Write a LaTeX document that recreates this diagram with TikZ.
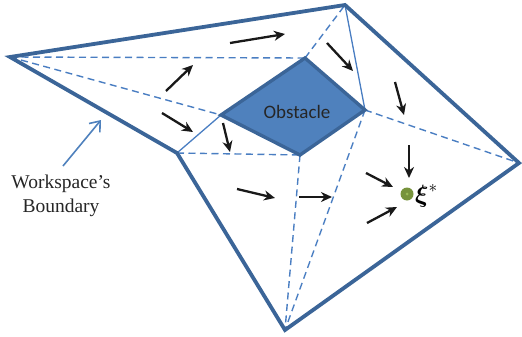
\documentclass[tikz,border=0pt]{standalone}
\usepackage{amsmath,amssymb}
\usepackage{fontspec}
\setmainfont{Liberation Serif}
\newfontfamily\calfont{Carlito}
\usetikzlibrary{arrows.meta}
\definecolor{wall}{HTML}{3B6598}
\definecolor{obst}{HTML}{4F81BD}
\definecolor{cell}{HTML}{4A7EC2}
\definecolor{goal}{HTML}{77933C}
\definecolor{goallight}{HTML}{9BBB59}
\tikzset{
  boundary/.style={draw=wall, line width=3.8pt, line join=miter},
  obstacle/.style={fill=obst, draw=wall, line width=3.4pt, line join=miter},
  cutdash/.style={draw=cell, line width=1.4pt, dash pattern=on 7pt off 4.5pt},
  cutsolid/.style={draw=cell, line width=1.3pt},
  flow/.style={draw=black!90, line width=2.3pt, -{Stealth[length=11pt,width=10pt,inset=3.5pt]}},
  pointer/.style={draw=obst, line width=1.6pt, -{Straight Barb[length=9pt,width=14pt]}},
}
\begin{document}
\begin{tikzpicture}[x=1pt,y=-1pt]
\useasboundingbox (0,0) rectangle (522,337);
% workspace corners
\coordinate (A) at (10,57);
\coordinate (B) at (345,5);
\coordinate (C) at (519,163);
\coordinate (D) at (285,330);
\coordinate (E) at (177,153);
% obstacle corners
\coordinate (OL) at (221,115);
\coordinate (OT) at (305,58);
\coordinate (OR) at (365,110);
\coordinate (OB) at (300,155);
% cell decomposition
\draw[cutdash] (A) -- (OT);
\draw[cutdash] (A) -- (OL);
\draw[cutdash] (OT) -- (B);
\draw[cutdash] (OR) -- (C);
\draw[cutdash] (E) -- (OB);
\draw[cutdash] (OB) -- (D);
\draw[cutdash] (OR) -- (D);
\draw[cutsolid] (B) -- (OR);
\draw[cutsolid] (E) -- (OL);
% boundary
\draw[boundary] (A) -- (B) -- (C) -- (D) -- (E) -- cycle;
% obstacle
\draw[obstacle] (OL) -- (OT) -- (OR) -- (OB) -- cycle;
\node[font=\calfont\fontsize{19}{22}\selectfont, text=black!85] (obsl) at (297,112) {Obstacle};
% flow arrows
\coordinate (f1a) at (230,43);  \coordinate (f1b) at (285,34);
\coordinate (f2a) at (166,91);  \coordinate (f2b) at (193,65);
\coordinate (f3a) at (162,113); \coordinate (f3b) at (193,132);
\coordinate (f4a) at (223,123); \coordinate (f4b) at (230,152);
\coordinate (f5a) at (327,43);  \coordinate (f5b) at (353,71);
\coordinate (f6a) at (395,82);  \coordinate (f6b) at (404,115);
\coordinate (f7a) at (409,145); \coordinate (f7b) at (409,178);
\coordinate (f8a) at (366,173); \coordinate (f8b) at (393,187);
\coordinate (f9a) at (367,223); \coordinate (f9b) at (397,207);
\coordinate (f10a) at (299,197); \coordinate (f10b) at (332,197);
\coordinate (f11a) at (237,189); \coordinate (f11b) at (275,198);
\foreach \i in {1,...,11} \draw[flow] (f\i a) -- (f\i b);
% goal point
\node[circle, fill=goal, minimum size=13pt, inner sep=0pt] (goal) at (407,194) {};
\node[circle, fill=goallight, minimum size=3pt, inner sep=0pt] (goalc) at (goal) {};
\node[anchor=west, inner sep=0pt] (xi) at (415,196) {\fontsize{24}{28}\selectfont$\boldsymbol{\xi}^{*}$};
% boundary label
\node[align=center, font=\fontsize{19.5}{23.5}\selectfont, text=black!85] (lbl) at (61,196) {Workspace’s\\Boundary};
\coordinate (pt) at (101,120);
\coordinate (ps) at (63,166);
\draw[pointer] (ps) -- (pt);
\end{tikzpicture}
\end{document}
